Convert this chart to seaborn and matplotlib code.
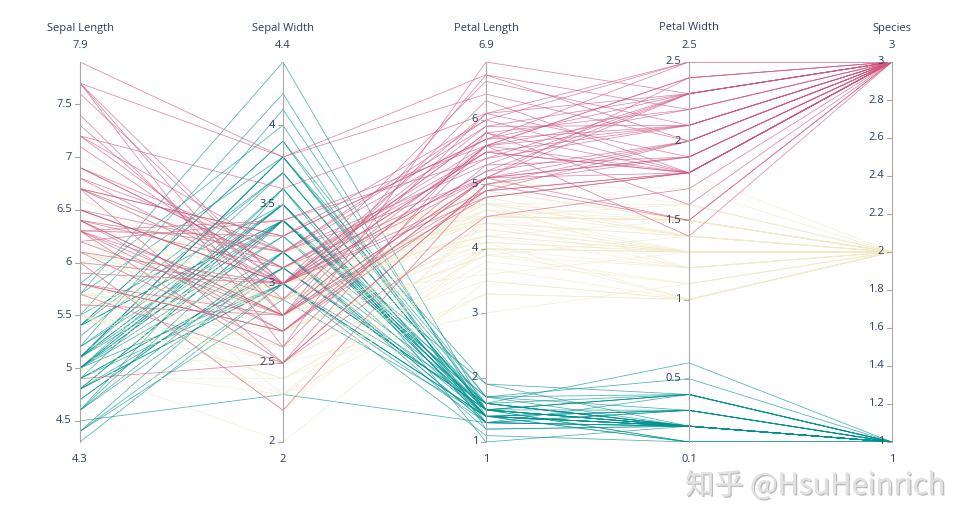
import numpy as np
import pandas as pd
import seaborn as sns
import matplotlib.pyplot as plt
import matplotlib.patheffects as pe

# iris data (Fisher), one list per column
sepal_length = [
    5.1, 4.9, 4.7, 4.6, 5.0, 5.4, 4.6, 5.0, 4.4, 4.9, 5.4, 4.8, 4.8, 4.3, 5.8, 5.7, 5.4, 5.1, 5.7, 5.1,
    5.4, 5.1, 4.6, 5.1, 4.8, 5.0, 5.0, 5.2, 5.2, 4.7, 4.8, 5.4, 5.2, 5.5, 4.9, 5.0, 5.5, 4.9, 4.4, 5.1,
    5.0, 4.5, 4.4, 5.0, 5.1, 4.8, 5.1, 4.6, 5.3, 5.0,
    7.0, 6.4, 6.9, 5.5, 6.5, 5.7, 6.3, 4.9, 6.6, 5.2, 5.0, 5.9, 6.0, 6.1, 5.6, 6.7, 5.6, 5.8, 6.2, 5.6,
    5.9, 6.1, 6.3, 6.1, 6.4, 6.6, 6.8, 6.7, 6.0, 5.7, 5.5, 5.5, 5.8, 6.0, 5.4, 6.0, 6.7, 6.3, 5.6, 5.5,
    5.5, 6.1, 5.8, 5.0, 5.6, 5.7, 5.7, 6.2, 5.1, 5.7,
    6.3, 5.8, 7.1, 6.3, 6.5, 7.6, 4.9, 7.3, 6.7, 7.2, 6.5, 6.4, 6.8, 5.7, 5.8, 6.4, 6.5, 7.7, 7.7, 6.0,
    6.9, 5.6, 7.7, 6.3, 6.7, 7.2, 6.2, 6.1, 6.4, 7.2, 7.4, 7.9, 6.4, 6.3, 6.1, 7.7, 6.3, 6.4, 6.0, 6.9,
    6.7, 6.9, 5.8, 6.8, 6.7, 6.7, 6.3, 6.5, 6.2, 5.9,
]
sepal_width = [
    3.5, 3.0, 3.2, 3.1, 3.6, 3.9, 3.4, 3.4, 2.9, 3.1, 3.7, 3.4, 3.0, 3.0, 4.0, 4.4, 3.9, 3.5, 3.8, 3.8,
    3.4, 3.7, 3.6, 3.3, 3.4, 3.0, 3.4, 3.5, 3.4, 3.2, 3.1, 3.4, 4.1, 4.2, 3.1, 3.2, 3.5, 3.6, 3.0, 3.4,
    3.5, 2.3, 3.2, 3.5, 3.8, 3.0, 3.8, 3.2, 3.7, 3.3,
    3.2, 3.2, 3.1, 2.3, 2.8, 2.8, 3.3, 2.4, 2.9, 2.7, 2.0, 3.0, 2.2, 2.9, 2.9, 3.1, 3.0, 2.7, 2.2, 2.5,
    3.2, 2.8, 2.5, 2.8, 2.9, 3.0, 2.8, 3.0, 2.9, 2.6, 2.4, 2.4, 2.7, 2.7, 3.0, 3.4, 3.1, 2.3, 3.0, 2.5,
    2.6, 3.0, 2.6, 2.3, 2.7, 3.0, 2.9, 2.9, 2.5, 2.8,
    3.3, 2.7, 3.0, 2.9, 3.0, 3.0, 2.5, 2.9, 2.5, 3.6, 3.2, 2.7, 3.0, 2.5, 2.8, 3.2, 3.0, 3.8, 2.6, 2.2,
    3.2, 2.8, 2.8, 2.7, 3.3, 3.2, 2.8, 3.0, 2.8, 3.0, 2.8, 3.8, 2.8, 2.8, 2.6, 3.0, 3.4, 3.1, 3.0, 3.1,
    3.1, 3.1, 2.7, 3.2, 3.3, 3.0, 2.5, 3.0, 3.4, 3.0,
]
petal_length = [
    1.4, 1.4, 1.3, 1.5, 1.4, 1.7, 1.4, 1.5, 1.4, 1.5, 1.5, 1.6, 1.4, 1.1, 1.2, 1.5, 1.3, 1.4, 1.7, 1.5,
    1.7, 1.5, 1.0, 1.7, 1.9, 1.6, 1.6, 1.5, 1.4, 1.6, 1.6, 1.5, 1.5, 1.4, 1.5, 1.2, 1.3, 1.4, 1.3, 1.5,
    1.3, 1.3, 1.3, 1.6, 1.9, 1.4, 1.6, 1.4, 1.5, 1.4,
    4.7, 4.5, 4.9, 4.0, 4.6, 4.5, 4.7, 3.3, 4.6, 3.9, 3.5, 4.2, 4.0, 4.7, 3.6, 4.4, 4.5, 4.1, 4.5, 3.9,
    4.8, 4.0, 4.9, 4.7, 4.3, 4.4, 4.8, 5.0, 4.5, 3.5, 3.8, 3.7, 3.9, 5.1, 4.5, 4.5, 4.7, 4.4, 4.1, 4.0,
    4.4, 4.6, 4.0, 3.3, 4.2, 4.2, 4.2, 4.3, 3.0, 4.1,
    6.0, 5.1, 5.9, 5.6, 5.8, 6.6, 4.5, 6.3, 5.8, 6.1, 5.1, 5.3, 5.5, 5.0, 5.1, 5.3, 5.5, 6.7, 6.9, 5.0,
    5.7, 4.9, 6.7, 4.9, 5.7, 6.0, 4.8, 4.9, 5.6, 5.8, 6.1, 6.4, 5.6, 5.1, 5.6, 6.1, 5.6, 5.5, 4.8, 5.4,
    5.6, 5.1, 5.1, 5.9, 5.7, 5.2, 5.0, 5.2, 5.4, 5.1,
]
petal_width = [
    0.2, 0.2, 0.2, 0.2, 0.2, 0.4, 0.3, 0.2, 0.2, 0.1, 0.2, 0.2, 0.1, 0.1, 0.2, 0.4, 0.4, 0.3, 0.3, 0.3,
    0.2, 0.4, 0.2, 0.5, 0.2, 0.2, 0.4, 0.2, 0.2, 0.2, 0.2, 0.4, 0.1, 0.2, 0.2, 0.2, 0.2, 0.1, 0.2, 0.2,
    0.3, 0.3, 0.2, 0.6, 0.4, 0.3, 0.2, 0.2, 0.2, 0.2,
    1.4, 1.5, 1.5, 1.3, 1.5, 1.3, 1.6, 1.0, 1.3, 1.4, 1.0, 1.5, 1.0, 1.4, 1.3, 1.4, 1.5, 1.0, 1.5, 1.1,
    1.8, 1.3, 1.5, 1.2, 1.3, 1.4, 1.4, 1.7, 1.5, 1.0, 1.1, 1.0, 1.2, 1.6, 1.5, 1.6, 1.5, 1.3, 1.3, 1.3,
    1.2, 1.4, 1.2, 1.0, 1.3, 1.2, 1.3, 1.3, 1.1, 1.3,
    2.5, 1.9, 2.1, 1.8, 2.2, 2.1, 1.7, 1.8, 1.8, 2.5, 2.0, 1.9, 2.1, 2.0, 2.4, 2.3, 1.8, 2.2, 2.3, 1.5,
    2.3, 2.0, 2.0, 1.8, 2.1, 1.8, 1.8, 1.8, 2.1, 1.6, 1.9, 2.0, 2.2, 1.5, 1.4, 2.3, 2.4, 1.8, 1.8, 2.1,
    2.4, 2.3, 1.9, 2.3, 2.5, 2.3, 1.9, 2.0, 2.3, 1.8,
]
species_id = [1] * 50 + [2] * 50 + [3] * 50

dim_labels = ["Sepal Length", "Sepal Width", "Petal Length", "Petal Width", "Species"]
dim_ticks = [
    [4.5, 5, 5.5, 6, 6.5, 7, 7.5],
    [2, 2.5, 3, 3.5, 4],
    [1, 2, 3, 4, 5, 6],
    [0.5, 1, 1.5, 2, 2.5],
    [1, 1.2, 1.4, 1.6, 1.8, 2, 2.2, 2.4, 2.6, 2.8, 3],
]
species_colors = {1: "#009392", 2: "#f1eac8", 3: "#d0587e"}

dims = [sepal_length, sepal_width, petal_length, petal_width, species_id]
ranges = [(min(d), max(d)) for d in dims]

rows = []
for j, d in enumerate(dims):
    lo, hi = ranges[j]
    for i, v in enumerate(d):
        rows.append({"row": i, "axis": j, "value": (v - lo) / (hi - lo), "species": species_id[i]})
long_df = pd.DataFrame(rows)

sns.set_theme(style="white")
plt.rcParams["font.family"] = ["Open Sans", "DejaVu Sans"]
text_color = "#2a3f5f"
fs = 8.0

W, H = 971, 525
fig = plt.figure(figsize=(W / 100, H / 100), dpi=100)
ax = fig.add_axes([80 / W, 83 / H, 812 / W, 380 / H])

sns.lineplot(
    data=long_df, x="axis", y="value", units="row", hue="species",
    estimator=None, sort=False, palette=species_colors, legend=False,
    linewidth=0.55, alpha=0.7, ax=ax,
)
ax.set_xlim(0, 4)
ax.set_ylim(0, 1)
ax.axis("off")

px = 4 / 812  # data units per pixel in x
for j, label in enumerate(dim_labels):
    lo, hi = ranges[j]
    ax.plot([j, j], [0, 1], color="#a8a8a8", lw=0.8, zorder=5, clip_on=False)
    for t in dim_ticks[j]:
        y = (t - lo) / (hi - lo)
        ax.plot([j - 5 * px, j], [y, y], color="#a8a8a8", lw=0.8, zorder=5, clip_on=False)
        ax.annotate(f"{t:g}", (j, y), xytext=(-8, 0), textcoords="offset pixels",
                    ha="right", va="center", fontsize=fs, color=text_color, zorder=6)
    ax.annotate(label, (j, 1), xytext=(0, 34), textcoords="offset pixels",
                ha="center", va="center", fontsize=fs, color=text_color)
    ax.annotate(f"{hi:g}", (j, 1), xytext=(0, 16), textcoords="offset pixels",
                ha="center", va="center", fontsize=fs, color=text_color)
    ax.annotate(f"{lo:g}", (j, 0), xytext=(0, -17), textcoords="offset pixels",
                ha="center", va="center", fontsize=fs, color=text_color)

fig.text(945 / W, 1 - 486 / H, "知乎 @HsuHeinrich", ha="right", va="center",
         fontsize=21, color="#e2e2e2", family=["Noto Sans CJK SC", "DejaVu Sans"],
         path_effects=[pe.withSimplePatchShadow(offset=(1, -1), shadow_rgbFace="#a0a0a0", alpha=0.7),
                       pe.Normal()])

fig.savefig("out.png", dpi=100)
